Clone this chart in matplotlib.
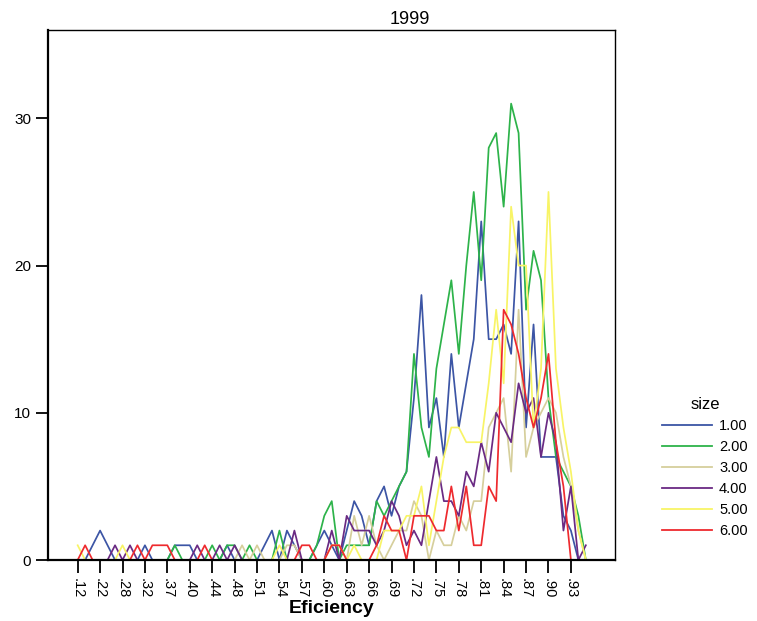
import matplotlib
matplotlib.use("Agg")
import matplotlib.pyplot as plt
import numpy as np

plt.rcParams['font.family'] = ['Liberation Sans', 'DejaVu Sans']

# Efficiency categories (every third one is labelled on the axis)
categories = [".12", ".17", ".20", ".22", ".24", ".26", ".28", ".29", ".31", ".32",
              ".34", ".36", ".37", ".38", ".39", ".40", ".41", ".43", ".44", ".45",
              ".47", ".48", ".49", ".50", ".51", ".52", ".53", ".54", ".55", ".56",
              ".57", ".58", ".59", ".60", ".61", ".62", ".63", ".64", ".65", ".66",
              ".67", ".68", ".69", ".70", ".71", ".72", ".73", ".74", ".75", ".76",
              ".77", ".78", ".79", ".80", ".81", ".82", ".83", ".84", ".85", ".86",
              ".87", ".88", ".89", ".90", ".91", ".92", ".93", ".94", ".95"]

size_1 = [0, 0, 1, 2, 1, 0, 0, 0, 0, 1, 0, 0, 0, 1, 1, 1, 0, 0, 0, 0,
          1, 0, 0, 0, 0, 1, 2, 0, 2, 1, 0, 0, 1, 2, 1, 0, 2, 4, 3, 1,
          4, 5, 3, 5, 6, 11, 18, 9, 11, 7, 14, 9, 12, 15, 23, 15, 15, 16, 14, 23,
          9, 16, 7, 7, 7, 3, 2, 0, 0]
size_2 = [0, 0, 0, 0, 0, 0, 0, 0, 0, 0, 0, 0, 0, 1, 0, 0, 0, 0, 1, 0,
          1, 1, 0, 1, 0, 0, 0, 2, 0, 0, 0, 0, 1, 3, 4, 0, 1, 1, 1, 1,
          4, 3, 4, 5, 6, 14, 9, 7, 13, 16, 19, 14, 20, 25, 19, 28, 29, 24, 31, 29,
          17, 21, 19, 11, 7, 6, 5, 3, 0]
size_3 = [0, 0, 0, 0, 0, 0, 0, 0, 0, 0, 0, 0, 0, 0, 0, 0, 0, 0, 0, 0,
          0, 0, 1, 0, 1, 0, 0, 0, 1, 1, 0, 0, 0, 0, 0, 0, 0, 3, 1, 3,
          1, 0, 1, 2, 2, 4, 3, 0, 2, 1, 1, 3, 2, 4, 4, 9, 10, 11, 6, 17,
          7, 9, 10, 11, 10, 7, 5, 2, 0]
size_4 = [0, 0, 0, 0, 0, 1, 0, 1, 0, 0, 0, 0, 0, 0, 0, 0, 1, 0, 0, 1,
          0, 1, 0, 0, 0, 0, 0, 0, 0, 2, 0, 0, 0, 0, 2, 0, 3, 2, 2, 2,
          1, 2, 4, 3, 1, 2, 1, 4, 7, 4, 4, 3, 6, 5, 8, 6, 10, 9, 8, 12,
          10, 11, 7, 10, 8, 2, 5, 0, 1]
size_5 = [1, 0, 0, 0, 0, 0, 1, 0, 0, 0, 0, 0, 0, 0, 0, 0, 0, 0, 0, 0,
          0, 0, 0, 0, 0, 0, 0, 1, 0, 0, 0, 0, 0, 0, 1, 1, 0, 1, 0, 0,
          0, 2, 2, 2, 3, 3, 5, 1, 4, 7, 9, 9, 8, 8, 8, 12, 17, 12, 24, 20,
          20, 9, 13, 25, 13, 9, 6, 2, 0]
size_6 = [0, 1, 0, 0, 0, 0, 0, 0, 1, 0, 1, 1, 1, 0, 0, 0, 0, 1, 0, 0,
          0, 0, 0, 0, 0, 0, 0, 0, 0, 0, 1, 1, 0, 0, 1, 1, 0, 0, 0, 0,
          1, 3, 2, 2, 0, 3, 3, 3, 2, 2, 5, 2, 5, 1, 1, 5, 4, 17, 16, 14,
          11, 9, 11, 14, 8, 5, 0, 0, 0]

series_names = ["1.00", "2.00", "3.00", "4.00", "5.00", "6.00"]
series = [size_1, size_2, size_3, size_4, size_5, size_6]
colors = ["#3c55a5", "#2db34a", "#d6cf9c", "#6a2a83", "#f8f466", "#ee2a2e"]

fig = plt.figure(figsize=(7.57, 6.21), dpi=100)
ax = fig.add_axes([48/757, 61/621, 567/757, 530/621])

x = np.arange(len(categories))
for vals, name, c in zip(series, series_names, colors):
    ax.plot(x, vals, color=c, lw=1.25, label=name)

ax.set_xlim(-3.97, 71.9)
ax.set_ylim(0, 36)
ax.set_yticks([0, 10, 20, 30])
ax.set_yticklabels(["0", "10", "20", "30"], fontsize=11)
ax.set_xticks(x[::3])
ax.set_xticklabels(categories[::3], rotation=270, fontsize=10.5)
ax.tick_params(axis='both', direction='out', length=9, width=1.3, color='black')
ax.tick_params(axis='x', pad=4)
ax.tick_params(axis='y', pad=3)
for s in ['left', 'bottom']:
    ax.spines[s].set_linewidth(1.6)
for s in ['top', 'right']:
    ax.spines[s].set_linewidth(1.0)

ax.set_xlabel("Eficiency", fontsize=14, fontweight='bold', labelpad=1)
fig.text(410/757, 1 - 19/621, "1999", ha='center', va='center', fontsize=13)

leg = fig.legend(loc='upper left', bbox_to_anchor=(649/757, 1 - 384/621),
                 frameon=False, title="size", fontsize=10.5, title_fontsize=12,
                 handlelength=3.4, handletextpad=0.5, labelspacing=0.48)
for line in leg.get_lines():
    line.set_linewidth(1.3)

fig.savefig("out.png", dpi=100)
